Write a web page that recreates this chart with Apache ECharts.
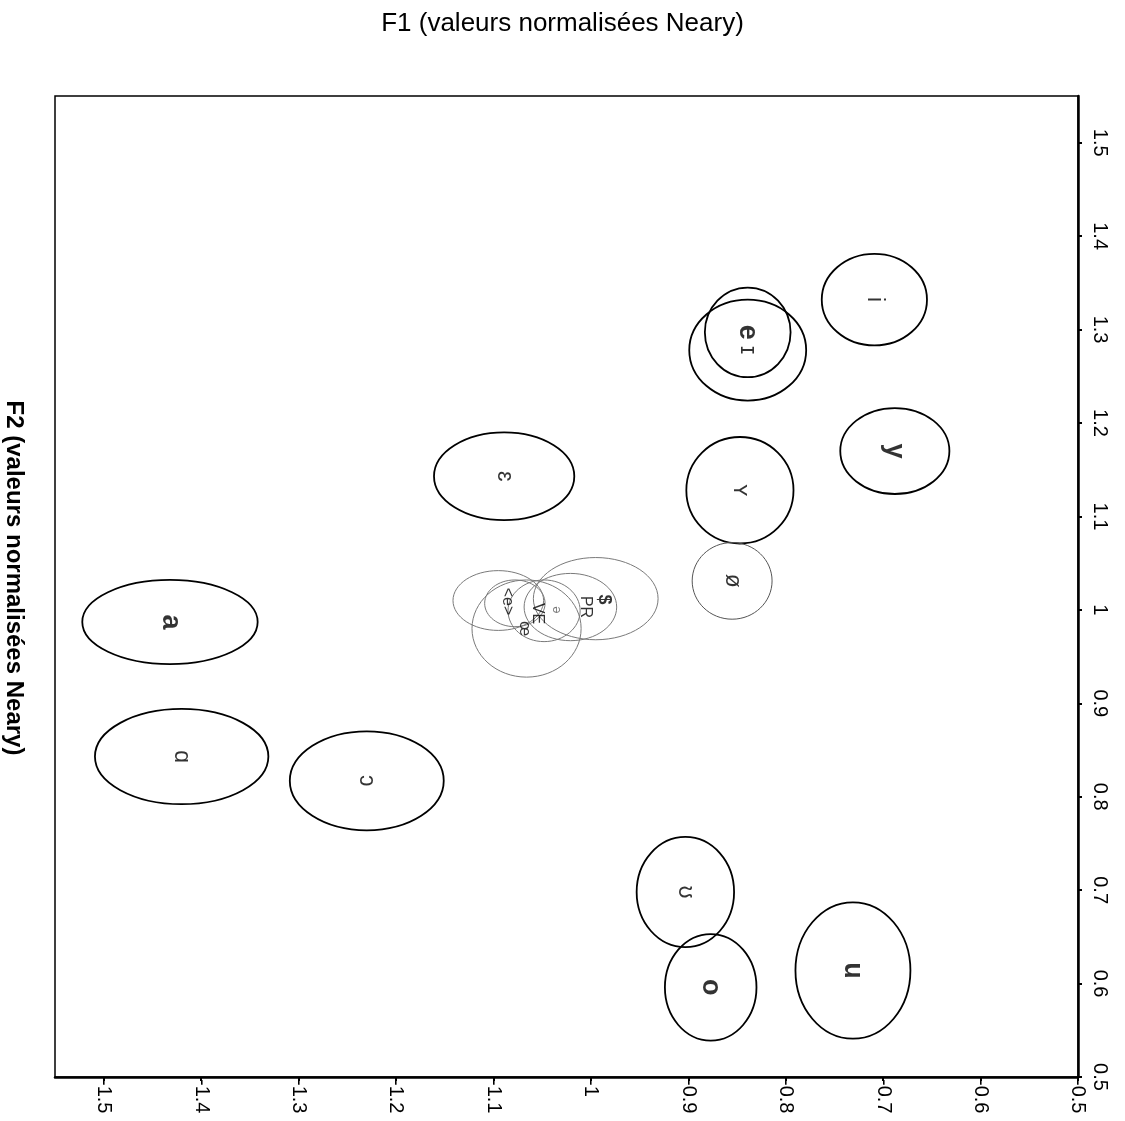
<!DOCTYPE html>
<html>
<head>
<meta charset="utf-8">
<script src="https://cdn.jsdelivr.net/npm/echarts@6/dist/echarts.min.js"></script>
<style>
html,body{margin:0;padding:0;background:#fff;}
#chart{width:1125px;height:1121px;}
</style>
</head>
<body>
<div id="chart"></div>
<script>
// ---- data (Neary-normalised values) ----
const xTicks = [-1.5, -1.4, -1.3, -1.2, -1.1, -1.0, -0.9, -0.8, -0.7, -0.6, -0.5];
const yTicks = [0.5, 0.6, 0.7, 0.8, 0.9, 1.0, 1.1, 1.2, 1.3, 1.4, 1.5];

// main vowel ellipses: centre (x, y) and half-axes (x, y)
const vowels   = ['i', 'e', 'ɪ', 'y', 'ʏ', 'ø', 'ɛ', 'a', 'ɑ', 'ɔ', 'ʊ', 'o', 'u'];
const vowelX   = [-0.709, -0.839, -0.839, -0.688, -0.847, -0.855, -1.089, -1.432, -1.420, -1.230, -0.903, -0.877, -0.731];
const vowelY   = [1.332, 1.297, 1.278, 1.170, 1.128, 1.031, 1.143, 0.987, 0.843, 0.817, 0.698, 0.596, 0.614];
const vowelRx  = [0.054, 0.044, 0.060, 0.056, 0.055, 0.041, 0.072, 0.090, 0.089, 0.079, 0.050, 0.047, 0.059];
const vowelRy  = [0.049, 0.048, 0.054, 0.046, 0.057, 0.041, 0.047, 0.045, 0.051, 0.053, 0.059, 0.057, 0.073];

// central cluster (grey ellipses)
const clusterX  = [-1.095, -1.066, -1.078, -1.048, -1.021, -0.995];
const clusterY  = [1.010, 0.980, 1.007, 0.999, 1.003, 1.012];
const clusterRx = [0.0465, 0.056, 0.031, 0.037, 0.0475, 0.064];
const clusterRy = [0.032, 0.052, 0.025, 0.033, 0.036, 0.044];

// central cluster labels
const clusterLabels = ['<e>', 'VE', 'œ', 'ə', 'PR', '$'];
const clusterLabelX = [-1.086, -1.055, -1.068, -1.035, -1.006, -0.987];
const clusterLabelY = [1.009, 0.996, 0.980, 1.000, 1.003, 1.011];

// ---- chart ----
const FONT = 'Liberation Sans, Arial, DejaVu Sans, sans-serif';
const boldSet = ['e', 'y', 'a', 'o', 'u'];
const greySet = ['ø'];

const mainData = vowels.map((v, i) => ({
  name: v,
  value: [vowelX[i], vowelY[i], vowelRx[i], vowelRy[i], greySet.includes(v) ? 1 : 0]
}));
const clusterData = clusterX.map((x, i) => ({
  value: [x, clusterY[i], clusterRx[i], clusterRy[i], 2]
}));

function ellipseItem(params, api) {
  const c = api.coord([api.value(0), api.value(1)]);
  const s = api.size([api.value(2), api.value(3)]);
  const kind = api.value(4);
  const stroke = kind === 0 ? '#000' : (kind === 1 ? '#555' : '#7a7a7a');
  const lw = kind === 0 ? 1.8 : 1;
  return {
    type: 'ellipse',
    shape: { cx: c[0], cy: c[1], rx: s[0], ry: s[1] },
    style: { fill: 'none', stroke: stroke, lineWidth: lw }
  };
}

const vowelLabelData = vowels.map((v, i) => ({
  name: v,
  value: [vowelX[i], vowelY[i]],
  label: {
    fontSize: boldSet.includes(v) ? 27 : 23,
    fontWeight: boldSet.includes(v) ? 'bold' : 'normal'
  }
}));
const clusterLabelData = clusterLabels.map((t, i) => ({
  name: t,
  value: [clusterLabelX[i], clusterLabelY[i]],
  label: {
    fontSize: t === '$' ? 18 : (t === 'ə' ? 13 : 16),
    fontWeight: t === '$' ? 'bold' : 'normal',
    color: t === 'ə' ? '#555' : '#000'
  }
}));

const fmt = v => String(Number(v.toFixed(2)));

const chart = echarts.init(document.getElementById('chart'));
chart.setOption({
  backgroundColor: '#fff',
  animation: false,
  title: {
    text: 'F1 (valeurs normalisées Neary)',
    left: 'center',
    top: 6,
    textStyle: { fontFamily: FONT, fontSize: 26, fontWeight: 'normal', color: '#000' }
  },
  graphic: [{
    type: 'text',
    x: 14,
    y: 578,
    rotation: -Math.PI / 2,
    style: {
      text: 'F2 (valeurs normalisées Neary)',
      fontFamily: FONT, fontSize: 24, fontWeight: 'bold', fill: '#000',
      textAlign: 'center', textVerticalAlign: 'middle'
    }
  }],
  grid: {
    left: 55, right: 47, top: 96, bottom: 44,
    show: true, borderColor: '#000', borderWidth: 1.5, backgroundColor: 'transparent'
  },
  xAxis: {
    type: 'value',
    min: -1.55, max: -0.5,
    splitLine: { show: false },
    axisLine: { show: true, onZero: false, lineStyle: { color: '#000', width: 2.5 } },
    axisTick: { show: true, length: 4, customValues: xTicks, lineStyle: { color: '#000', width: 2 } },
    axisLabel: {
      customValues: xTicks, rotate: -90, margin: 2,
      formatter: fmt, color: '#000', fontFamily: FONT, fontSize: 20
    }
  },
  yAxis: {
    type: 'value',
    position: 'right',
    min: 0.5, max: 1.55,
    splitLine: { show: false },
    axisLine: { show: true, onZero: false, lineStyle: { color: '#000', width: 2.5 } },
    axisTick: { show: true, length: 4, customValues: yTicks, lineStyle: { color: '#000', width: 2 } },
    axisLabel: {
      customValues: yTicks, rotate: -90, margin: 12,
      formatter: fmt, color: '#000', fontFamily: FONT, fontSize: 20
    }
  },
  series: [
    {
      type: 'custom', name: 'cluster', renderItem: ellipseItem,
      data: clusterData, encode: { x: 0, y: 1 }, silent: true, z: 2
    },
    {
      type: 'custom', name: 'vowels', renderItem: ellipseItem,
      data: mainData, encode: { x: 0, y: 1 }, silent: true, z: 3
    },
    {
      type: 'scatter', name: 'vowelLabels', symbolSize: 0, silent: true, z: 4,
      data: vowelLabelData,
      label: {
        show: true, position: 'inside', rotate: -90,
        formatter: p => p.name, color: '#000', fontFamily: FONT
      }
    },
    {
      type: 'scatter', name: 'clusterLabels', symbolSize: 0, silent: true, z: 4,
      data: clusterLabelData,
      label: {
        show: true, position: 'inside', rotate: -90,
        formatter: p => p.name, fontFamily: FONT
      }
    }
  ]
});
</script>
</body>
</html>
